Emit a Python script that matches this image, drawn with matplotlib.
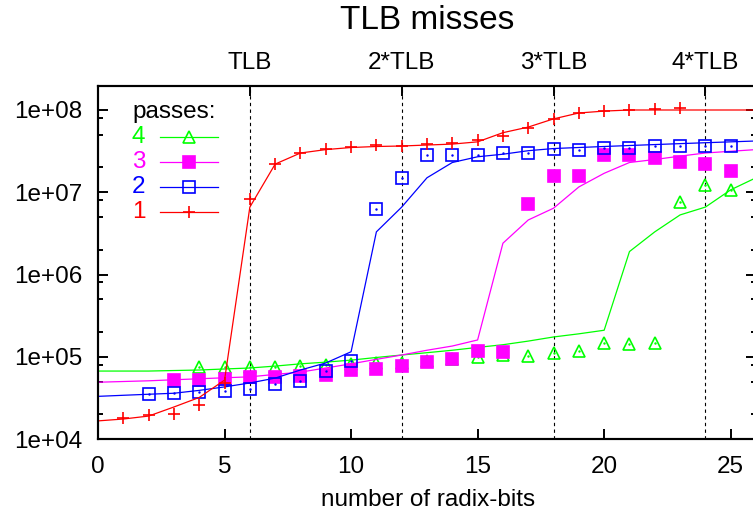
import matplotlib
matplotlib.use("Agg")
import matplotlib.pyplot as plt
from matplotlib.lines import Line2D
from matplotlib.ticker import LogLocator, NullFormatter

plt.rcParams['font.family'] = ['Liberation Sans', 'DejaVu Sans']

# model curves (drawn as lines), one value per number of radix-bits 0..26
bits_model = list(range(0, 27))
model_1 = [1.66e4, 1.75e4, 1.9e4, 2.45e4, 3.2e4, 5.2e4, 6.6e6, 2.2e7, 3.0e7, 3.3e7,
           3.5e7, 3.6e7, 3.65e7, 3.75e7, 3.85e7, 4.1e7, 5.3e7, 6.2e7, 7.8e7, 9.2e7,
           9.7e7, 1.0e8, 1.0e8, 1.0e8, 1.0e8, 1.0e8, 1.0e8]
model_2 = [3.3e4, 3.4e4, 3.5e4, 3.6e4, 3.9e4, 4.3e4, 4.8e4, 5.5e4, 6.9e4, 8.4e4,
           1.15e5, 3.3e6, 6.6e6, 1.5e7, 2.3e7, 2.7e7, 2.9e7, 3.2e7, 3.4e7, 3.5e7,
           3.6e7, 3.7e7, 3.8e7, 3.9e7, 4.0e7, 4.1e7, 4.2e7]
model_3 = [4.9e4, 5.0e4, 5.1e4, 5.25e4, 5.4e4, 5.55e4, 5.7e4, 6.1e4, 6.5e4, 7.3e4,
           8.2e4, 9.3e4, 1.05e5, 1.2e5, 1.35e5, 1.6e5, 2.4e6, 4.6e6, 6.4e6, 1.16e7,
           1.7e7, 2.3e7, 2.5e7, 2.75e7, 3.0e7, 3.15e7, 3.3e7]
model_4 = [6.7e4, 6.7e4, 6.7e4, 6.8e4, 6.9e4, 7.1e4, 7.3e4, 7.7e4, 8.2e4, 8.6e4,
           9.1e4, 9.8e4, 1.05e5, 1.12e5, 1.2e5, 1.3e5, 1.4e5, 1.55e5, 1.74e5, 1.9e5,
           2.1e5, 1.9e6, 3.3e6, 5.3e6, 6.6e6, 1.07e7, 1.5e7]

# measured TLB misses (points)
bits_1 = list(range(1, 24))
meas_1 = [1.8e4, 1.96e4, 2.0e4, 2.6e4, 4.8e4, 8.3e6, 2.2e7, 3.0e7, 3.4e7, 3.55e7,
          3.75e7, 3.65e7, 3.9e7, 4.0e7, 4.3e7, 4.8e7, 6.0e7, 7.8e7, 9.2e7, 9.7e7,
          1.0e8, 1.03e8, 1.06e8]
bits_2 = list(range(2, 26))
meas_2 = [3.5e4, 3.6e4, 3.7e4, 3.8e4, 4.05e4, 4.7e4, 5.1e4, 6.7e4, 8.9e4, 6.3e6,
          1.5e7, 2.8e7, 2.8e7, 2.8e7, 3.0e7, 3.0e7, 3.4e7, 3.3e7, 3.5e7, 3.5e7,
          3.7e7, 3.7e7, 3.7e7, 3.6e7]
bits_3 = list(range(3, 26))
meas_3 = [5.2e4, 5.2e4, 5.4e4, 5.7e4, 5.7e4, 5.8e4, 6.0e4, 6.9e4, 7.1e4, 7.7e4,
          8.6e4, 9.4e4, 1.18e5, 1.14e5, 7.2e6, 1.58e7, 1.58e7, 2.8e7, 2.8e7, 2.6e7,
          2.3e7, 2.2e7, 1.8e7]
bits_4 = list(range(4, 26))
meas_4 = [7.5e4, 7.5e4, 7.5e4, 7.5e4, 7.7e4, 7.9e4, 8.2e4, 8.4e4, 8.4e4, 8.9e4,
          9.4e4, 9.9e4, 1.05e5, 1.02e5, 1.1e5, 1.17e5, 1.47e5, 1.43e5, 1.47e5, 7.6e6,
          1.22e7, 1.06e7]

tlb_pos = [6, 12, 18, 24]
tlb_labels = ['TLB', '2*TLB', '3*TLB', '4*TLB']
x_ticks = [0, 5, 10, 15, 20, 25]

W, H = 753, 519
fig = plt.figure(figsize=(W / 100, H / 100), dpi=100)
ax = fig.add_axes([98 / W, 80 / H, 658 / W, 353 / H])

for p in tlb_pos:
    ax.axvline(p, color='black', lw=0.8, ls=(0, (3, 3)), zorder=1)

# passes: label, colour, marker, filled?, model, bits, measured
series = [
    ('4', '#00ff00', '^', False, model_4, bits_4, meas_4),
    ('3', '#ff00ff', 's', True, model_3, bits_3, meas_3),
    ('2', '#0000ff', 's', False, model_2, bits_2, meas_2),
    ('1', '#ff0000', '+', False, model_1, bits_1, meas_1),
]

z = 2
for lab, col, mk, filled, model, bits, meas in series:
    ax.plot(bits_model, model, color=col, lw=0.9, zorder=z)
    ax.plot(bits, meas, ls='none', marker=mk, ms=8.5, mew=1.2, color=col,
            mfc=col if filled else 'none', zorder=z + 0.5)
    if mk in ('^', 's') and not filled:
        ax.plot(bits, meas, ls='none', marker='.', ms=1.5, color=col, zorder=z + 0.6)
    z += 1

ax.set_yscale('log')
ax.set_ylim(1e4, 10 ** (8 + 24 / 82.25))
ax.set_xlim(0, 26)
ax.set_xticks(x_ticks)
ax.yaxis.set_major_locator(LogLocator(base=10, numticks=10))
ax.yaxis.set_minor_locator(LogLocator(base=10, subs=[2, 5, 8], numticks=10))
ax.yaxis.set_minor_formatter(NullFormatter())
ax.yaxis.set_major_formatter(plt.FuncFormatter(lambda v, _: '1e+%02d' % round(__import__('math').log10(v))))

ax.tick_params(which='both', direction='in', top=True, right=True, width=1.4,
               labelsize=17.5, color='black')
ax.tick_params(which='major', length=7)
ax.tick_params(which='minor', length=3.6)
ax.tick_params(axis='x', pad=12)
ax.tick_params(axis='y', pad=11)
for s in ax.spines.values():
    s.set_linewidth(1.5)

ax2 = ax.twiny()
ax2.set_xlim(ax.get_xlim())
ax2.set_xticks(tlb_pos, tlb_labels)
ax2.tick_params(direction='in', length=7, width=1.4, labelsize=17.5, pad=9)
for s in ax2.spines.values():
    s.set_linewidth(1.5)

fig.text(427 / W, 1 - 29 / H, 'TLB misses', ha='center', va='baseline', fontsize=24)
fig.text(428 / W, 1 - 500 / H, 'number of radix-bits', ha='center', va='center',
         fontsize=17.5)

# key
fig.text(132 / W, 1 - 112 / H, 'passes:', ha='left', va='center', fontsize=17.5)
for i, (lab, col, mk, filled, *_rest) in enumerate(series):
    yy = 1 - (137 + 25 * i) / H
    fig.text(132 / W, yy, lab, color=col, ha='left', va='center', fontsize=17.5)
    fig.add_artist(Line2D([160 / W, 218 / W], [yy, yy], color=col, lw=0.9))
    fig.add_artist(Line2D([189 / W], [yy], marker=mk, ms=8.5, mew=1.2, color=col,
                          mfc=col if filled else 'none'))

fig.savefig('out.png', dpi=100)
